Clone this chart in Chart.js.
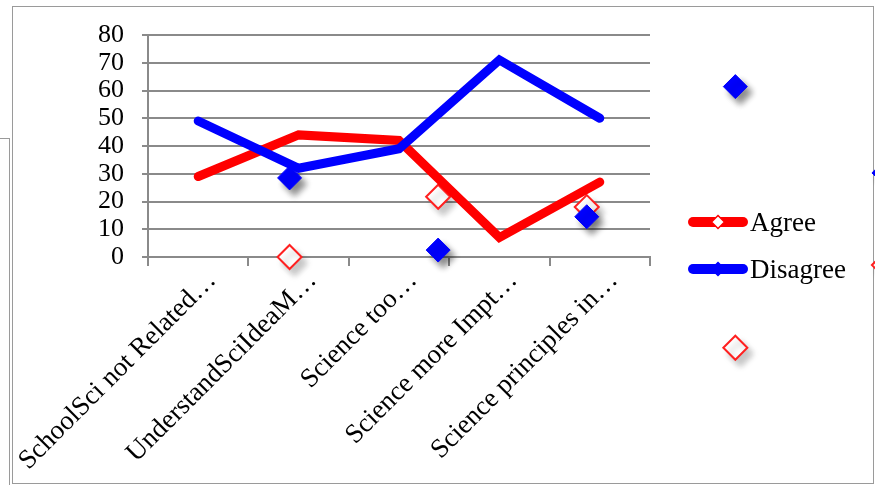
<!DOCTYPE html>
<html>
<head>
<meta charset="utf-8">
<script src="https://cdn.jsdelivr.net/npm/chart.js@4/dist/chart.umd.min.js"></script>
<style>
  html, body { margin: 0; padding: 0; background: #ffffff; }
  #wrap { position: relative; width: 875px; height: 485px; overflow: hidden; background: #fff; }
  #back { position: absolute; left: -2px; top: 138px; width: 10px; height: 400px; border: 1.5px solid #9a9a9a; }
  #frame { position: absolute; left: 12px; top: 6px; width: 860px; height: 476px; border: 1.5px solid #9a9a9a; background: #fff; }
  canvas { position: absolute; left: 0; top: 0; }
</style>
</head>
<body>
<div id="wrap">
  <div id="back"></div>
  <div id="frame"></div>
  <canvas id="c" width="875" height="485"></canvas>
</div>
<script>
// Survey statements (labels truncated as in the workbook)
const categories = [
  'SchoolSci not Related\u2026',
  'UnderstandSciIdeaM\u2026',
  'Science too\u2026',
  'Science more Impt\u2026',
  'Science principles in\u2026'
];
const agree    = [29, 44, 42, 7, 27];
const disagree = [49, 32, 39, 71, 50];

// Loose marker series on their own index axis (listed right to left)
const looseIndex    = [5, 4, 3, 2, 1];
const looseAgree    = [-2.9, -32.7, 18, 21.7, 0];
const looseDisagree = [30.3, 61.4, 14.5, 2.5, 28.5];

const yTicks = { min: 0, max: 80, step: 10 };

const RED = '#ff0000';
const BLUE = '#0000ff';
const GRID = '#8a8a8a';
const SERIF = '"Liberation Serif", "Times New Roman", serif';

const toPoints = (xs, ys) => xs.map((x, i) => ({ x, y: ys[i] }));

// Loose markers: drop shadow, and they may sit outside the plot area
const looseMarkers = {
  id: 'looseMarkers',
  beforeDatasetDraw(chart, args) {
    const ds = chart.data.datasets[args.index];
    if (!ds.shadowColor) return;
    const ctx = chart.ctx;
    ctx.save();
    ctx.shadowColor = ds.shadowColor;
    ctx.shadowBlur = 6;
    ctx.shadowOffsetX = 5;
    ctx.shadowOffsetY = 6;
    chart._plotArea = chart.chartArea;
    chart.chartArea = {
      left: -100, top: -100, right: chart.width + 100, bottom: chart.height + 100,
      width: chart.width + 200, height: chart.height + 200
    };
  },
  afterDatasetDraw(chart, args) {
    const ds = chart.data.datasets[args.index];
    if (!ds.shadowColor) return;
    chart.chartArea = chart._plotArea;
    chart.ctx.restore();
  }
};

// Legend: thick line sample with a diamond in the middle, then the label
const lineLegend = {
  id: 'lineLegend',
  afterDraw(chart) {
    const ctx = chart.ctx;
    const items = chart.data.datasets.filter(d => d.inLegend);
    const x0 = 688, x1 = 748, yStart = 222, gap = 47;
    items.forEach((ds, i) => {
      const y = yStart + i * gap;
      ctx.save();
      ctx.strokeStyle = ds.borderColor;
      ctx.lineWidth = 10;
      ctx.lineCap = 'round';
      ctx.beginPath();
      ctx.moveTo(x0 + 5, y);
      ctx.lineTo(x1 - 5, y);
      ctx.stroke();
      const cx = (x0 + x1) / 2, r = 6.5;
      ctx.beginPath();
      ctx.moveTo(cx, y - r);
      ctx.lineTo(cx + r, y);
      ctx.lineTo(cx, y + r);
      ctx.lineTo(cx - r, y);
      ctx.closePath();
      ctx.fillStyle = ds.legendMarkerFill;
      ctx.fill();
      ctx.lineWidth = 1.5;
      ctx.strokeStyle = ds.borderColor;
      ctx.stroke();
      ctx.fillStyle = '#000';
      ctx.font = '27px ' + SERIF;
      ctx.textBaseline = 'alphabetic';
      ctx.textAlign = 'left';
      ctx.fillText(ds.label, x1 + 2, y + 9);
      ctx.restore();
    });
  }
};

// Index axis for the loose markers: one step every 148 px, first at 289 px
const looseMin = 1 - 141 / 148;
const looseMax = looseMin + 500 / 148;

new Chart(document.getElementById('c'), {
  type: 'line',
  data: {
    labels: categories,
    datasets: [
      {
        label: 'Agree', data: agree, inLegend: true, legendMarkerFill: '#ffffff',
        borderColor: RED, backgroundColor: RED, borderWidth: 9,
        borderCapStyle: 'round', borderJoinStyle: 'miter', pointRadius: 0, tension: 0,
        xAxisID: 'x', order: 2
      },
      {
        label: 'Disagree', data: disagree, inLegend: true, legendMarkerFill: BLUE,
        borderColor: BLUE, backgroundColor: BLUE, borderWidth: 9,
        borderCapStyle: 'round', borderJoinStyle: 'miter', pointRadius: 0, tension: 0,
        xAxisID: 'x', order: 1
      },
      {
        type: 'scatter', label: 'Agree markers', data: toPoints(looseIndex, looseAgree),
        xAxisID: 'xs', showLine: false, shadowColor: 'rgba(0,0,0,0.22)', clip: false,
        pointStyle: 'rectRot', pointRadius: 12, pointBorderWidth: 2,
        pointBackgroundColor: '#ffffff', pointBorderColor: '#ff2020', order: 4
      },
      {
        type: 'scatter', label: 'Disagree markers', data: toPoints(looseIndex, looseDisagree),
        xAxisID: 'xs', showLine: false, shadowColor: 'rgba(0,0,0,0.45)', clip: false,
        pointStyle: 'rectRot', pointRadius: 12, pointBorderWidth: 1,
        pointBackgroundColor: BLUE, pointBorderColor: BLUE, order: 3
      }
    ]
  },
  options: {
    responsive: false,
    animation: false,
    events: [],
    layout: { padding: { left: 0, top: 35, right: 225, bottom: 0 } },
    plugins: { legend: { display: false }, tooltip: { enabled: false } },
    scales: {
      x: {
        type: 'category',
        position: 'bottom',
        offset: true,
        grid: { offset: true, drawOnChartArea: false, drawTicks: true, tickLength: 9, color: GRID, lineWidth: 2 },
        border: { color: GRID, width: 2 },
        ticks: {
          color: '#000', font: { family: SERIF, size: 27 },
          minRotation: 45, maxRotation: 45, autoSkip: false,
          padding: -1, labelOffset: 14
        },
        afterFit(s) {
          s.height = 228;
          s.paddingLeft = 0;
          s.paddingRight = 0;
        }
      },
      xs: {
        type: 'linear', display: false,
        min: looseMin, max: looseMax
      },
      y: {
        min: yTicks.min, max: yTicks.max,
        grid: { color: GRID, lineWidth: 2, tickLength: 6 },
        border: { color: GRID, width: 2 },
        ticks: {
          stepSize: yTicks.step, autoSkip: false, color: '#000', padding: 18,
          font: { family: SERIF, size: 26 }
        },
        afterFit(s) { s.width = 148; }
      }
    }
  },
  plugins: [looseMarkers, lineLegend]
});
</script>
</body>
</html>
